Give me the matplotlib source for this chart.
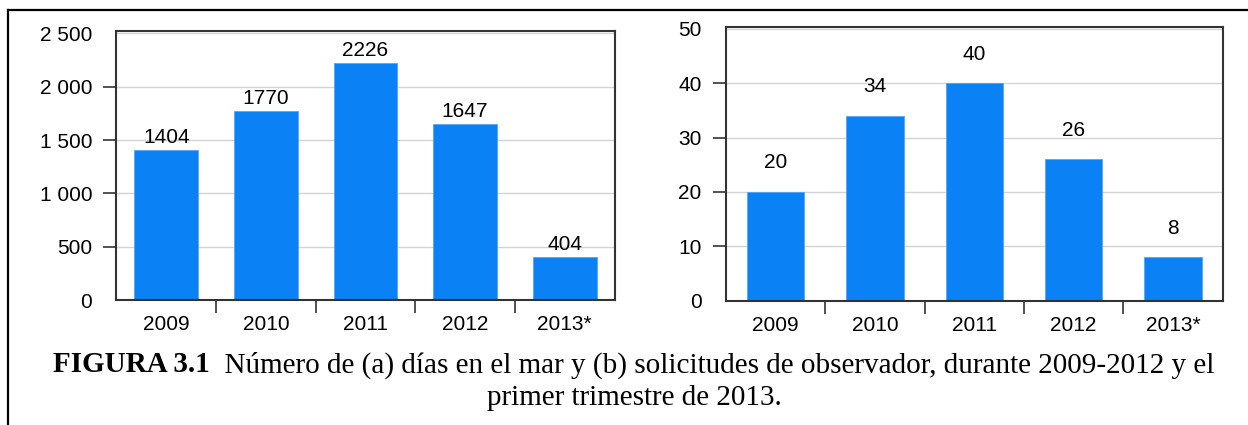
import matplotlib.pyplot as plt
from matplotlib.lines import Line2D

# data
years = ["2009", "2010", "2011", "2012", "2013*"]
dias_mar = [1404, 1770, 2226, 1647, 404]
solicitudes = [20, 34, 40, 26, 8]

ticks_a = [0, 500, 1000, 1500, 2000, 2500]
ticklabels_a = ["0", "500", "1 000", "1 500", "2 000", "2 500"]
ticks_b = [0, 10, 20, 30, 40, 50]
ticklabels_b = ["0", "10", "20", "30", "40", "50"]

caption_bold = "FIGURA 3.1"
caption_rest = "  Número de (a) días en el mar y (b) solicitudes de observador, durante 2009-2012 y el"
caption_line2 = "primer trimestre de 2013."

bar_color = "#0a82f5"
sans = ["Liberation Sans", "DejaVu Sans"]
serif = ["Liberation Serif", "DejaVu Serif"]

fig = plt.figure(figsize=(12.48, 4.25), dpi=100)


def draw_panel(rect, values, ticks, ticklabels, ylim, width, offset):
    ax = fig.add_axes(rect)
    x = list(range(len(years)))
    ax.bar(x, values, width=width, color=bar_color, edgecolor="#4aa0f8",
           linewidth=0.5, zorder=2)
    for xi, v in zip(x, values):
        ax.annotate(str(v), (xi, v), xytext=(0, offset), textcoords="offset points",
                    ha="center", va="baseline", fontsize=15, family=sans)
    ax.set_xlim(-0.5, len(years) - 0.5)
    ax.set_ylim(*ylim)
    ax.set_yticks(ticks)
    ax.set_yticklabels(ticklabels, family=sans, fontsize=15)
    ax.set_xticks(x)
    ax.set_xticklabels(years, family=sans, fontsize=15)
    ax.set_xticks([i + 0.5 for i in x[:-1]], minor=True)
    ax.tick_params(axis="x", which="major", length=0, pad=11)
    ax.tick_params(axis="x", which="minor", length=9.5, width=1.2, color="#333333")
    ax.tick_params(axis="y", length=9.5, width=1.2, color="#333333", pad=8)
    ytk = ax.yaxis.get_major_ticks()
    ytk[0].tick1line.set_visible(False)
    ytk[-1].tick1line.set_visible(False)
    ax.grid(axis="y", color="#d4d4d4", linewidth=1, zorder=0)
    ax.set_axisbelow(True)
    for s in ax.spines.values():
        s.set_color("#333333")
        s.set_linewidth(1.5)
    return ax


draw_panel([0.0933, 0.2941, 0.3991, 0.6337], dias_mar, ticks_a, ticklabels_a,
           (0, 2525), 0.64, 5)
draw_panel([0.5817, 0.2925, 0.3980, 0.6433], solicitudes, ticks_b, ticklabels_b,
           (0, 50.3), 0.58, 17)

# border lines (left and top)
fig.add_artist(Line2D([8 / 1248, 8 / 1248], [0, 1 - 10 / 425], color="black",
                      linewidth=1.6, transform=fig.transFigure))
fig.add_artist(Line2D([8 / 1248, 1], [1 - 10 / 425, 1 - 10 / 425], color="black",
                      linewidth=1.6, transform=fig.transFigure))

# caption
cx = 634 / 1248
y1 = 1 - 365 / 425
y2 = 1 - 398 / 425
t_bold = fig.text(0, y1, caption_bold, fontsize=21, fontweight="bold",
                  family=serif, va="center", ha="left")
t_rest = fig.text(0, y1, caption_rest, fontsize=21, family=serif,
                  va="center", ha="left")
fig.canvas.draw()
r = fig.canvas.get_renderer()
wb = t_bold.get_window_extent(r).width / fig.bbox.width
wr = t_rest.get_window_extent(r).width / fig.bbox.width
x0 = cx - (wb + wr) / 2
t_bold.set_x(x0)
t_rest.set_x(x0 + wb)
fig.text(cx, y2, caption_line2, fontsize=21, family=serif, va="center", ha="center")

fig.savefig("out.png", dpi=100)
